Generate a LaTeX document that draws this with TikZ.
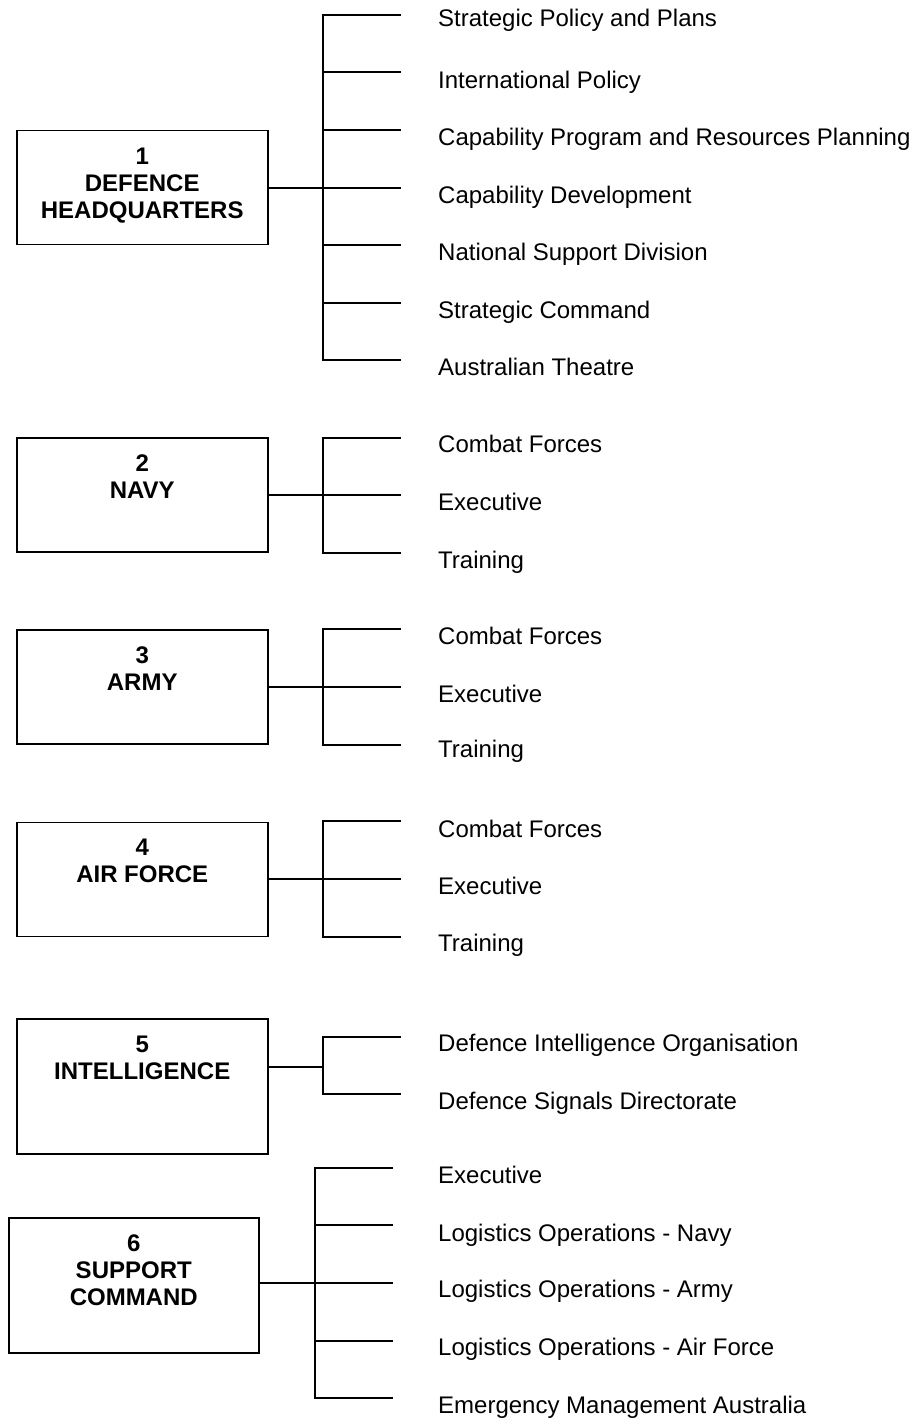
\documentclass[tikz,border=0pt]{standalone}
\usepackage{fontspec}
\setmainfont{Liberation Sans}
\usepackage{tikz}
\usetikzlibrary{positioning,calc}
\tikzset{
  unit/.style={draw,line width=1.5pt,anchor=north west,minimum width=251pt,inner sep=0pt,align=center,
    font=\bfseries\fontsize{24}{27}\selectfont},
  twolines/.style={text height=60.6pt,text depth=53.4pt},
  threelines/.style={text height=87.6pt,text depth=26.4pt},
  item/.style={anchor=base west,inner sep=0pt,font=\fontsize{24}{28}\selectfont},
  tree/.style={line width=1.5pt}
}
\begin{document}
\begin{tikzpicture}[x=1pt,y=-1pt]
  \useasboundingbox (0,0) rectangle (918,1420);

  % the six groups
  \node[unit,threelines] (hq) at (16,130) {1\\DEFENCE\\HEADQUARTERS};
  \node[unit,twolines] (navy) at (16,437) {2\\NAVY};
  \node[unit,twolines] (army) at (16,629) {3\\ARMY};
  \node[unit,twolines] (airforce) at (16,821.5) {4\\AIR FORCE};
  \node[unit,twolines,text depth=74.4pt] (intel) at (16,1018) {5\\INTELLIGENCE};
  \node[unit,threelines,text depth=47.4pt,minimum width=250pt] (support) at (8,1217) {6\\SUPPORT\\COMMAND};

  % divisions
  \foreach \y/\t [count=\i] in {27/Strategic Policy and Plans,88.5/International Policy,
      145.5/Capability Program and Resources Planning,203.5/Capability Development,
      260.5/National Support Division,318/Strategic Command,375.5/Australian Theatre}
    \node[item] (hqdiv\i) at (438,\y) {\t};
  \foreach \y/\t [count=\i] in {452.5/Combat Forces,510.5/Executive,568/Training}
    \node[item] (navydiv\i) at (438,\y) {\t};
  \foreach \y/\t [count=\i] in {644.5/Combat Forces,702.5/Executive,757.5/Training}
    \node[item] (armydiv\i) at (438,\y) {\t};
  \foreach \y/\t [count=\i] in {837.5/Combat Forces,894.5/Executive,951.5/Training}
    \node[item] (airforcediv\i) at (438,\y) {\t};
  \foreach \y/\t [count=\i] in {1051.5/Defence Intelligence Organisation,1109.5/Defence Signals Directorate}
    \node[item] (inteldiv\i) at (438,\y) {\t};
  \foreach \y/\t [count=\i] in {1183.5/Executive,1241.5/Logistics Operations - Navy,
      1297.5/Logistics Operations - Army,1355.5/Logistics Operations - Air Force,
      1413.5/Emergency Management Australia}
    \node[item] (supportdiv\i) at (438,\y) {\t};

  % branch ends and trunks
  \foreach \y [count=\i] in {15,72,130,188,245,303,360}
    \coordinate (hqend\i) at (401,\y);
  \foreach \y [count=\i] in {438,495,553}
    \coordinate (navyend\i) at (401,\y);
  \foreach \y [count=\i] in {629,687,745}
    \coordinate (armyend\i) at (401,\y);
  \foreach \y [count=\i] in {821,879,937}
    \coordinate (airforceend\i) at (401,\y);
  \foreach \y [count=\i] in {1037,1094}
    \coordinate (intelend\i) at (401,\y);
  \foreach \y [count=\i] in {1168,1225,1283,1341,1398}
    \coordinate (supportend\i) at (393,\y);
  \coordinate (hqtrunk) at (323,188);
  \coordinate (navytrunk) at (323,495);
  \coordinate (armytrunk) at (323,687);
  \coordinate (airforcetrunk) at (323,879);
  \coordinate (inteltrunk) at (323,1067);
  \coordinate (supporttrunk) at (315,1283);

  \draw[tree] (hqend1) -| (hqend7 -| hqtrunk) -- (hqend7);
  \foreach \i in {2,...,6}
    \draw[tree] (hqend\i -| hqtrunk) -- (hqend\i);
  \draw[tree] (hq.east |- hqtrunk) -- (hqtrunk);

  \foreach \n in {navy,army,airforce}{
    \draw[tree] (\n end1) -| (\n end3 -| \n trunk) -- (\n end3);
    \draw[tree] (\n.east |- \n trunk) -- (\n end2);
  }

  \draw[tree] (intelend1) -| (intelend2 -| inteltrunk) -- (intelend2);
  \draw[tree] (intel.east |- inteltrunk) -- (inteltrunk);

  \draw[tree] (supportend1) -| (supportend5 -| supporttrunk) -- (supportend5);
  \foreach \i in {2,...,4}
    \draw[tree] (supportend\i -| supporttrunk) -- (supportend\i);
  \draw[tree] (support.east |- supporttrunk) -- (supporttrunk);
\end{tikzpicture}
\end{document}
